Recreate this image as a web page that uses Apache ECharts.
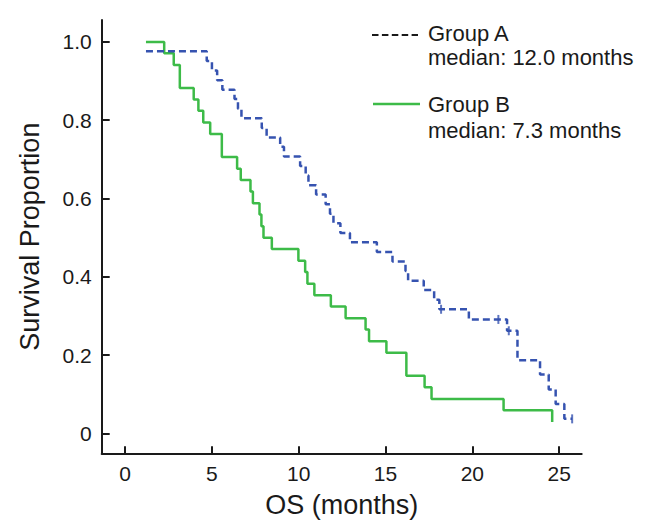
<!DOCTYPE html>
<html>
<head>
<meta charset="utf-8">
<script src="https://cdn.jsdelivr.net/npm/echarts@6/dist/echarts.min.js"></script>
<style>
html,body{margin:0;padding:0;background:#fff;}
#chart{width:666px;height:527px;}
</style>
</head>
<body>
<div id="chart"></div>
<script>
// Group A (dashed blue) Kaplan-Meier steps: time of change (months) and new survival
const groupATimes = [1.2, 4.7, 5.0, 5.3, 5.6, 6.3, 6.5, 6.7, 7.87, 8.15, 8.93, 9.15, 10.08, 10.4, 10.56, 11.0, 11.55, 11.8, 12.0, 12.4, 12.95, 14.5, 15.4, 16.15, 16.3, 17.2, 17.8, 18.1, 19.8, 22.0, 22.6, 23.9, 24.4, 24.8, 25.3, 25.75];
const groupASurv  = [0.976, 0.951, 0.927, 0.902, 0.878, 0.854, 0.829, 0.805, 0.780, 0.756, 0.732, 0.707, 0.683, 0.659, 0.634, 0.610, 0.585, 0.561, 0.537, 0.512, 0.488, 0.463, 0.439, 0.415, 0.390, 0.366, 0.341, 0.317, 0.291, 0.262, 0.187, 0.150, 0.112, 0.075, 0.037, 0.037];
const groupACensorT = [18.2, 21.5, 22.1, 25.75];
const groupACensorS = [0.317, 0.291, 0.262, 0.037];

// Group B (solid green)
const groupBTimes = [1.2, 2.25, 2.8, 3.15, 3.95, 4.22, 4.5, 4.9, 5.57, 6.45, 6.66, 7.22, 7.36, 7.74, 7.85, 7.97, 8.45, 9.98, 10.37, 10.5, 10.9, 11.85, 12.7, 13.85, 14.05, 15.05, 16.2, 17.25, 17.65, 21.8, 24.6];
const groupBSurv  = [1.0, 0.971, 0.941, 0.882, 0.853, 0.824, 0.794, 0.765, 0.706, 0.676, 0.647, 0.618, 0.588, 0.559, 0.529, 0.500, 0.471, 0.441, 0.412, 0.382, 0.353, 0.324, 0.294, 0.265, 0.235, 0.206, 0.147, 0.118, 0.088, 0.059, 0.029];

const xTicks = [0, 5, 10, 15, 20, 25];
const yTicks = [0, 0.2, 0.4, 0.6, 0.8, 1.0];
const seriesNames = ['Group A', 'Group B'];
const medianTexts = ['median: 12.0 months', 'median: 7.3 months'];

const zip = (a, b) => a.map((v, i) => [v, b[i]]);
const FONT = 'Liberation Sans, Arial, sans-serif';
const BLUE = '#3653b0';
const GREEN = '#3dbb48';
const INK = '#1a1a1a';
const LEG_FS = 22;

const chart = echarts.init(document.getElementById('chart'), null, {renderer: 'svg'});
chart.setOption({
  animation: false,
  backgroundColor: '#fff',
  grid: {left: 101.7, top: 20, width: 480, height: 433.3},
  xAxis: {
    type: 'value', min: -1.35, max: 26.3,
    name: 'OS (months)', nameLocation: 'middle', nameGap: 38,
    nameTextStyle: {fontFamily: FONT, fontSize: 27, color: INK},
    axisLine: {show: true, onZero: false, lineStyle: {color: INK, width: 2}},
    axisTick: {show: true, inside: true, length: 7, customValues: xTicks, lineStyle: {color: INK, width: 2}},
    axisLabel: {customValues: xTicks, margin: 10, fontFamily: FONT, fontSize: 21, color: INK},
    splitLine: {show: false}
  },
  yAxis: {
    type: 'value', min: -0.051, max: 1.056,
    name: 'Survival Proportion', nameLocation: 'middle', nameGap: 58,
    nameTextStyle: {fontFamily: FONT, fontSize: 27, color: INK},
    axisLine: {show: true, onZero: false, lineStyle: {color: INK, width: 2}},
    axisTick: {show: true, inside: true, length: 8, customValues: yTicks, lineStyle: {color: INK, width: 2}},
    axisLabel: {customValues: yTicks, margin: 10, fontFamily: FONT, fontSize: 21, color: INK,
      formatter: v => (Math.abs(v) < 1e-9 ? '0' : v.toFixed(1))},
    splitLine: {show: false}
  },
  graphic: [
    {type: 'line', shape: {x1: 372, y1: 35, x2: 418, y2: 35}, style: {stroke: INK, lineWidth: 2, lineDash: [6.5, 3.4]}},
    {type: 'text', x: 428, y: 33.5, style: {text: seriesNames[0], fontFamily: FONT, fontSize: LEG_FS, fill: INK, verticalAlign: 'middle'}},
    {type: 'text', x: 428, y: 57, style: {text: medianTexts[0], fontFamily: FONT, fontSize: LEG_FS, fill: INK, verticalAlign: 'middle'}},
    {type: 'line', shape: {x1: 373, y1: 104, x2: 420, y2: 104}, style: {stroke: GREEN, lineWidth: 2.5}},
    {type: 'text', x: 428, y: 104.5, style: {text: seriesNames[1], fontFamily: FONT, fontSize: LEG_FS, fill: INK, verticalAlign: 'middle'}},
    {type: 'text', x: 428, y: 130, style: {text: medianTexts[1], fontFamily: FONT, fontSize: LEG_FS, fill: INK, verticalAlign: 'middle'}}
  ],
  series: [
    {name: seriesNames[0], type: 'line', step: 'end', symbol: 'none', data: zip(groupATimes, groupASurv),
      lineStyle: {color: BLUE, width: 2.5, type: [7, 4]}, itemStyle: {color: BLUE}, z: 3},
    {name: seriesNames[1], type: 'line', step: 'end', symbol: 'none', data: zip(groupBTimes, groupBSurv),
      lineStyle: {color: GREEN, width: 2.5}, itemStyle: {color: GREEN}, z: 2},
    {name: 'Group A censored', type: 'scatter', data: zip(groupACensorT, groupACensorS),
      symbol: 'rect', symbolSize: [2, 9], itemStyle: {color: BLUE}, z: 4}
  ]
});
</script>
</body>
</html>
